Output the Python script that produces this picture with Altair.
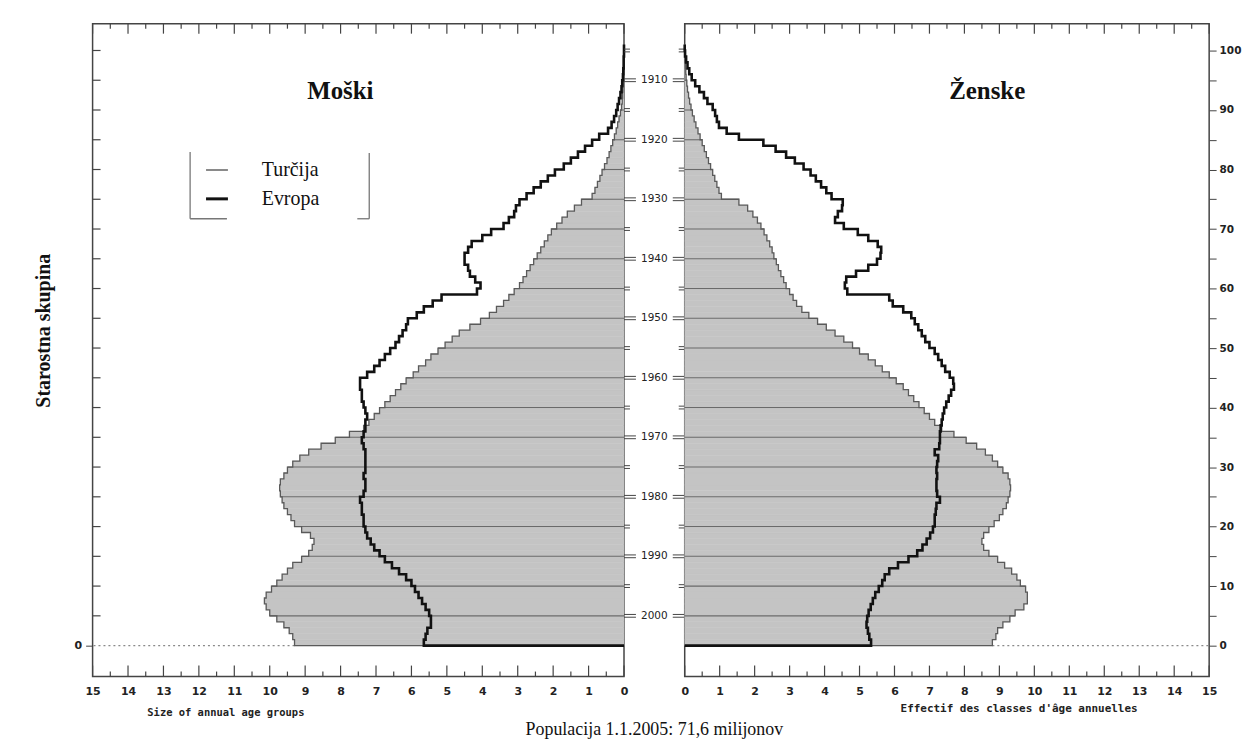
import altair as alt
import pandas as pd

# ---------------- data (per-mille of population per annual age group)
ages = list(range(101))

turkey_m = [9.3, 9.35, 9.45, 9.6, 9.8, 10.0, 10.1, 10.15, 10.1, 9.95,
            9.8, 9.65, 9.5, 9.35, 9.1, 8.9, 8.8, 8.75, 8.85, 9.1,
            9.3, 9.4, 9.5, 9.6, 9.65, 9.7, 9.72, 9.7, 9.6, 9.5,
            9.35, 9.15, 8.9, 8.55, 8.15, 7.75, 7.35, 7.2, 7.05, 6.9,
            6.75, 6.6, 6.45, 6.3, 6.15, 5.95, 5.8, 5.6, 5.45, 5.25,
            5.05, 4.85, 4.65, 4.35, 4.05, 3.8, 3.6, 3.4, 3.25, 3.1,
            2.95, 2.85, 2.75, 2.65, 2.55, 2.45, 2.35, 2.25, 2.15, 2.05,
            1.9, 1.75, 1.6, 1.4, 1.2, 0.9, 0.82, 0.75, 0.68, 0.62,
            0.55, 0.48, 0.42, 0.37, 0.32, 0.27, 0.22, 0.18, 0.14, 0.1,
            0.07, 0.05, 0.04, 0.03, 0.02, 0.01, 0.01, 0.0, 0.0, 0.0, 0.0]

europe_m = [5.65, 5.6, 5.55, 5.45, 5.45, 5.5, 5.6, 5.7, 5.8, 5.9,
            6.0, 6.15, 6.35, 6.55, 6.75, 6.9, 7.05, 7.15, 7.25, 7.3,
            7.35, 7.35, 7.4, 7.4, 7.45, 7.35, 7.3, 7.3, 7.35, 7.3,
            7.3, 7.3, 7.3, 7.35, 7.4, 7.35, 7.3, 7.3, 7.25, 7.3,
            7.35, 7.4, 7.4, 7.45, 7.45, 7.25, 7.05, 6.9, 6.75, 6.6,
            6.45, 6.35, 6.25, 6.15, 6.1, 5.85, 5.65, 5.4, 5.15, 4.15,
            4.05, 4.2, 4.35, 4.4, 4.5, 4.5, 4.4, 4.3, 4.0, 3.75,
            3.4, 3.25, 3.1, 3.05, 2.95, 2.75, 2.55, 2.35, 2.15, 1.95,
            1.7, 1.5, 1.3, 1.1, 0.9, 0.7, 0.45, 0.35, 0.28, 0.22,
            0.18, 0.14, 0.1, 0.07, 0.05, 0.03, 0.02, 0.01, 0.01, 0.0, 0.0]

turkey_f = [8.8, 8.9, 8.95, 9.1, 9.3, 9.45, 9.7, 9.8, 9.8, 9.75,
            9.6, 9.5, 9.35, 9.15, 8.95, 8.7, 8.55, 8.5, 8.55, 8.7,
            8.85, 9.0, 9.1, 9.2, 9.25, 9.3, 9.32, 9.3, 9.25, 9.1,
            8.95, 8.8, 8.6, 8.35, 8.05, 7.7, 7.35, 7.15, 7.0, 6.85,
            6.7, 6.55, 6.4, 6.25, 6.05, 5.85, 5.65, 5.45, 5.25, 5.0,
            4.8, 4.55, 4.3, 4.05, 3.8, 3.55, 3.35, 3.2, 3.1, 3.0,
            2.9, 2.83, 2.75, 2.68, 2.62, 2.55, 2.5, 2.43, 2.35, 2.27,
            2.18, 2.08, 1.95, 1.8, 1.55, 1.05, 0.98, 0.92, 0.86, 0.8,
            0.74, 0.68, 0.62, 0.56, 0.5, 0.44, 0.38, 0.32, 0.27, 0.22,
            0.18, 0.14, 0.11, 0.08, 0.06, 0.04, 0.03, 0.02, 0.01, 0.0, 0.0]

europe_f = [5.33, 5.28, 5.24, 5.2, 5.22, 5.26, 5.32, 5.38, 5.45, 5.55,
            5.65, 5.72, 5.85, 6.1, 6.4, 6.65, 6.8, 6.92, 7.02, 7.1,
            7.15, 7.15, 7.18, 7.2, 7.3, 7.22, 7.2, 7.2, 7.22, 7.2,
            7.22, 7.25, 7.15, 7.28, 7.3, 7.3, 7.32, 7.35, 7.38, 7.42,
            7.48, 7.55, 7.62, 7.7, 7.68, 7.58, 7.45, 7.35, 7.25, 7.15,
            7.0, 6.88, 6.78, 6.68, 6.58, 6.48, 6.25, 5.95, 5.85, 4.65,
            4.58, 4.62, 4.9, 5.25, 5.5, 5.6, 5.62, 5.52, 5.25, 4.95,
            4.55, 4.3, 4.38, 4.5, 4.52, 4.2, 4.05, 3.9, 3.75, 3.6,
            3.4, 3.15, 2.9, 2.6, 2.25, 1.55, 1.2, 0.98, 0.92, 0.87,
            0.8, 0.65, 0.55, 0.42, 0.3, 0.2, 0.13, 0.08, 0.04, 0.01, 0.0]

years = [1910, 1920, 1930, 1940, 1950, 1960, 1970, 1980, 1990, 2000]
year_ages = [2005 - y for y in years]
short_tick_ages = [10, 20, 30, 40, 50, 60, 70, 80, 90, 100]
unit_ticks = list(range(16))
half_ticks = [i + 0.5 for i in range(15)]
age_ticks_5 = list(range(0, 101, 5))
grid_ages = list(range(5, 100, 5))

caption = "Populacija 1.1.2005: 71,6 milijonov"
legend_labels = ["Turčija", "Evropa"]

# ---------------- layout constants
Y_DOMAIN = [-5.2, 104.5]
H = 656
W_L, W_M, W_R = 534, 61, 527
GREY = "#c4c4c4"
OUTLINE = "#5a5a5a"
FRAME = "#444444"
SERIF = "Liberation Serif"


def steps(vals):
    rows = [{"v": 0.0, "age": 0, "o": 0}]
    k = 1
    for a, v in zip(ages, vals):
        rows.append({"v": v, "age": a, "o": k}); k += 1
        rows.append({"v": v, "age": a + 1, "o": k}); k += 1
    rows.append({"v": 0.0, "age": ages[-1] + 1, "o": k})
    return pd.DataFrame(rows)


def text_layer(t, x, y, size, weight="normal", font=SERIF, align="center", color="#111"):
    return alt.Chart(pd.DataFrame({"t": [t]})).mark_text(
        font=font, fontSize=size, fontWeight=weight, align=align, baseline="middle", color=color
    ).encode(x=alt.value(x), y=alt.value(y), text="t:N")


def panel(tur, eur, left):
    W = W_L if left else W_R
    xs = alt.Scale(domain=[0, 15], reverse=left, nice=False, zero=False)
    ys = alt.Scale(domain=Y_DOMAIN, nice=False, zero=False)

    x_axis = alt.Axis(values=unit_ticks, format="d", tickSize=0, domain=False, grid=False,
                      labelPadding=9, labelFont="DejaVu Sans", labelFontSize=11,
                      labelFontWeight="bold", labelColor="#222", labelFlush=False, title=None)
    if left:
        y_axis = alt.Axis(orient="left", values=[0], tickSize=7, tickColor=FRAME, domain=False,
                          grid=False, labelPadding=4, labelFont="DejaVu Sans", labelFontSize=11,
                          labelFontWeight="bold", labelColor="#222",
                          title="Starostna skupina", titleFont=SERIF, titleFontSize=20,
                          titleFontWeight="bold", titleColor="#111", titleAngle=270,
                          titleX=-49, titleY=308, titleBaseline="middle", titleAlign="center")
    else:
        y_axis = alt.Axis(orient="right", values=age_ticks_5,
                          labelExpr="datum.value % 10 == 0 ? datum.label : ''",
                          tickSize=7, tickColor=FRAME, domain=False, grid=False, labelPadding=3,
                          labelFont="DejaVu Sans", labelFontSize=10.5, labelFontWeight="bold",
                          labelColor="#222", labelOverlap=False, labelFlush=False, title=None)

    X = lambda f: alt.X(f, scale=xs, axis=x_axis)
    Y = lambda f: alt.Y(f, scale=ys, axis=y_axis)

    bar_df = pd.DataFrame({"age": ages, "age2": [a + 1 for a in ages], "v": tur})
    fill = alt.Chart(bar_df).mark_rect(color=GREY, stroke=GREY, strokeWidth=0.5).encode(
        x=X("v:Q"), x2=alt.datum(0), y=Y("age:Q"), y2="age2:Q")

    gl = pd.DataFrame({"age": grid_ages, "v": [max(tur[a - 1], tur[a]) for a in grid_ages]})
    grid = alt.Chart(gl).mark_rule(color="#6a6a6a", strokeWidth=1.1).encode(
        x=X("v:Q"), x2=alt.datum(0), y=Y("age:Q"))

    t_line = alt.Chart(steps(tur)).mark_line(color=OUTLINE, strokeWidth=1.3).encode(
        x=X("v:Q"), y=Y("age:Q"), order="o:Q")
    e_line = alt.Chart(steps(eur)).mark_line(color="#111", strokeWidth=2.6).encode(
        x=X("v:Q"), y=Y("age:Q"), order="o:Q")

    dotted = alt.Chart(pd.DataFrame({"v": [tur[0]], "age": [0]})).mark_rule(
        color="#8a8a8a", strokeDash=[2, 3], strokeWidth=1.3).encode(
        x=X("v:Q"), x2=alt.datum(15), y=Y("age:Q"))

    ut = pd.DataFrame({"u": unit_ticks})
    ht = pd.DataFrame({"u": half_ticks})
    tick_style = dict(color=FRAME, strokeWidth=1.2)
    top_major = alt.Chart(ut).mark_rule(**tick_style).encode(x=X("u:Q"), y=alt.value(0), y2=alt.value(10))
    top_minor = alt.Chart(ht).mark_rule(**tick_style).encode(x=X("u:Q"), y=alt.value(0), y2=alt.value(5))
    bot_major = alt.Chart(ut).mark_rule(**tick_style).encode(x=X("u:Q"), y=alt.value(H), y2=alt.value(H - 11))
    bot_minor = alt.Chart(ht).mark_rule(**tick_style).encode(x=X("u:Q"), y=alt.value(H), y2=alt.value(H - 5))

    layers = [fill, grid, dotted, t_line, e_line, top_major, top_minor, bot_major, bot_minor]

    if left:
        side = alt.Chart(pd.DataFrame({"age": age_ticks_5[1:]})).mark_rule(**tick_style).encode(
            y=Y("age:Q"), x=alt.value(0), x2=alt.value(8))
        layers.append(side)
        layers.append(text_layer("Moški", 249, 68, 25, "bold"))
        layers.append(text_layer("Size of annual age groups", 55, 693, 10.5, "bold",
                                 font="DejaVu Sans Mono", align="left", color="#222"))
        # legend
        box = dict(color="#777", strokeWidth=1.3)
        k0 = pd.DataFrame({"k": [0]})
        layers.append(alt.Chart(k0).mark_rule(**box).encode(
            x=alt.value(98), y=alt.value(129), y2=alt.value(196)))
        layers.append(alt.Chart(k0).mark_rule(**box).encode(
            x=alt.value(98), x2=alt.value(135), y=alt.value(196)))
        layers.append(alt.Chart(k0).mark_rule(**box).encode(
            x=alt.value(278), y=alt.value(130), y2=alt.value(196)))
        layers.append(alt.Chart(k0).mark_rule(**box).encode(
            x=alt.value(266), x2=alt.value(278), y=alt.value(196)))
        layers.append(alt.Chart(k0).mark_rule(color="#8a8a8a", strokeWidth=2).encode(
            x=alt.value(114), x2=alt.value(136), y=alt.value(147)))
        layers.append(alt.Chart(k0).mark_rule(color="#111", strokeWidth=3).encode(
            x=alt.value(114), x2=alt.value(136), y=alt.value(176)))
        layers.append(text_layer(legend_labels[0], 170, 147, 20, align="left"))
        layers.append(text_layer(legend_labels[1], 170, 176, 20, align="left"))
    else:
        layers.append(text_layer("Ženske", 304, 68, 25, "bold"))
        layers.append(text_layer("Effectif des classes d'âge annuelles", 336, 689, 11, "bold",
                                 font="DejaVu Sans Mono", color="#222"))

    return alt.layer(*layers).properties(width=W, height=H)


def middle():
    ys = alt.Scale(domain=Y_DOMAIN, nice=False, zero=False)
    Y = alt.Y("age:Q", scale=ys, axis=None)
    long_df = pd.DataFrame({"age": year_ages, "label": [str(y) for y in years]})
    short_df = pd.DataFrame({"age": short_tick_ages})
    st = dict(color=FRAME, strokeWidth=1)
    layers = []
    for df, L in ((long_df, 12), (short_df, 6)):
        for off in (-1.4, 1.4):
            layers.append(alt.Chart(df).mark_rule(yOffset=off, **st).encode(
                y=Y, x=alt.value(0), x2=alt.value(L)))
            layers.append(alt.Chart(df).mark_rule(yOffset=off, **st).encode(
                y=Y, x=alt.value(W_M - L), x2=alt.value(W_M)))
    layers.append(alt.Chart(long_df).mark_text(font="DejaVu Sans", fontSize=10.5, color="#222",
                                               baseline="middle").encode(
        y=Y, x=alt.value(W_M / 2), text="label:N"))
    layers.append(text_layer(caption, W_M / 2, 710, 18))
    return alt.layer(*layers).properties(width=W_M, height=H,
                                         view=alt.ViewBackground(stroke="transparent"))


chart = alt.hconcat(panel(turkey_m, europe_m, True), middle(), panel(turkey_f, europe_f, False),
                    spacing=0, bounds="flush").properties(
    padding={"left": 25, "top": 12, "right": 0, "bottom": 0}
).configure(font="DejaVu Sans").configure_view(stroke=FRAME, strokeWidth=1.5)

chart.save("out.html", embed_options={"renderer": "svg", "actions": False})
